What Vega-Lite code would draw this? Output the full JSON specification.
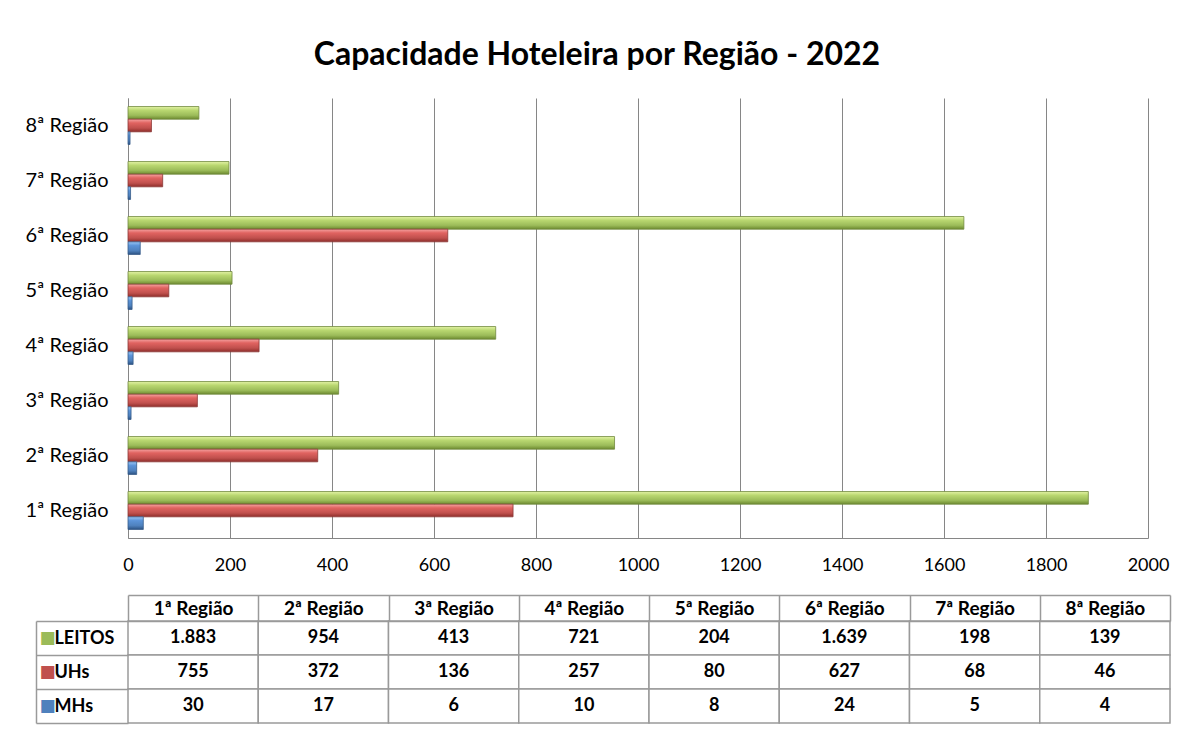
{
  "$schema": "https://vega.github.io/schema/vega-lite/v6.json",
  "background": "white",
  "padding": {"left": 25, "top": 39, "right": 5, "bottom": 5},
  "config": {
    "font": "Lato",
    "view": {"stroke": null},
    "locale": {"number": {"decimal": ",", "thousands": ".", "grouping": [3], "currency": ["R$", ""]}}
  },
  "datasets": {
    "d": [
      {"region": "1ª Região", "series": "LEITOS", "value": 1883},
      {"region": "1ª Região", "series": "UHs", "value": 755},
      {"region": "1ª Região", "series": "MHs", "value": 30},
      {"region": "2ª Região", "series": "LEITOS", "value": 954},
      {"region": "2ª Região", "series": "UHs", "value": 372},
      {"region": "2ª Região", "series": "MHs", "value": 17},
      {"region": "3ª Região", "series": "LEITOS", "value": 413},
      {"region": "3ª Região", "series": "UHs", "value": 136},
      {"region": "3ª Região", "series": "MHs", "value": 6},
      {"region": "4ª Região", "series": "LEITOS", "value": 721},
      {"region": "4ª Região", "series": "UHs", "value": 257},
      {"region": "4ª Região", "series": "MHs", "value": 10},
      {"region": "5ª Região", "series": "LEITOS", "value": 204},
      {"region": "5ª Região", "series": "UHs", "value": 80},
      {"region": "5ª Região", "series": "MHs", "value": 8},
      {"region": "6ª Região", "series": "LEITOS", "value": 1639},
      {"region": "6ª Região", "series": "UHs", "value": 627},
      {"region": "6ª Região", "series": "MHs", "value": 24},
      {"region": "7ª Região", "series": "LEITOS", "value": 198},
      {"region": "7ª Região", "series": "UHs", "value": 68},
      {"region": "7ª Região", "series": "MHs", "value": 5},
      {"region": "8ª Região", "series": "LEITOS", "value": 139},
      {"region": "8ª Região", "series": "UHs", "value": 46},
      {"region": "8ª Região", "series": "MHs", "value": 4}
    ]
  },
  "spacing": 20,
  "vconcat": [
    {
      "width": 1020,
      "height": 440,
      "title": {"text": "Capacidade Hoteleira por Região - 2022", "fontSize": 32, "fontWeight": "bold", "color": "#000", "anchor": "middle", "frame": "bounds", "offset": 26},
      "data": {"name": "d"},
      "encoding": {
        "y": {"field": "region", "type": "nominal",
          "scale": {"domain": ["8ª Região", "7ª Região", "6ª Região", "5ª Região", "4ª Região", "3ª Região", "2ª Região", "1ª Região"], "paddingInner": 0.31, "paddingOuter": 0.155},
          "axis": {"title": null, "ticks": false, "grid": false, "labelFontSize": 20, "labelColor": "#000", "labelPadding": 20, "domainColor": "#868686", "domainWidth": 1}},
        "yOffset": {"field": "series", "type": "nominal", "scale": {"domain": ["LEITOS", "UHs", "MHs"], "paddingInner": 0, "paddingOuter": 0}},
        "x": {"field": "value", "type": "quantitative",
          "scale": {"domain": [0, 2000]},
          "axis": {"title": null, "values": [0, 200, 400, 600, 800, 1000, 1200, 1400, 1600, 1800, 2000], "format": "d", "ticks": false, "labelFontSize": 18, "labelColor": "#000", "labelPadding": 18, "labelFlush": false, "grid": true, "gridColor": "#868686", "gridWidth": 1, "gridOpacity": 1, "domainColor": "#868686", "domainWidth": 1}}
      },
      "layer": [
        {"transform": [{"filter": "datum.series == 'LEITOS'"}],
          "mark": {"type": "bar", "stroke": "#71893f", "strokeWidth": 0.8,
            "color": {"gradient": "linear", "x1": 0, "y1": 0, "x2": 0, "y2": 1,
              "stops": [{"offset": 0, "color": "#e4f3a6"}, {"offset": 0.3, "color": "#b9d770"}, {"offset": 0.7, "color": "#9bbb59"}, {"offset": 1, "color": "#6d8a2f"}]}}},
        {"transform": [{"filter": "datum.series == 'UHs'"}],
          "mark": {"type": "bar", "stroke": "#8c3836", "strokeWidth": 0.8,
            "color": {"gradient": "linear", "x1": 0, "y1": 0, "x2": 0, "y2": 1,
              "stops": [{"offset": 0, "color": "#f5a3a1"}, {"offset": 0.3, "color": "#e06360"}, {"offset": 0.7, "color": "#c0504d"}, {"offset": 1, "color": "#8e2d2a"}]}}},
        {"transform": [{"filter": "datum.series == 'MHs'"}],
          "mark": {"type": "bar", "stroke": "#385d8a", "strokeWidth": 0.8,
            "color": {"gradient": "linear", "x1": 0, "y1": 0, "x2": 0, "y2": 1,
              "stops": [{"offset": 0, "color": "#9cc7f5"}, {"offset": 0.3, "color": "#5b93d8"}, {"offset": 0.7, "color": "#4f81bd"}, {"offset": 1, "color": "#2c5282"}]}}}
      ]
    },
    {
      "width": 1042,
      "height": 102,
      "data": {"name": "d"},
      "layer": [
        {
          "mark": {"type": "rect", "fill": "white", "stroke": "#9a9a9a", "strokeWidth": 1.5},
          "encoding": {
            "x": {"field": "region", "type": "nominal",
              "scale": {"domain": ["1ª Região", "2ª Região", "3ª Região", "4ª Região", "5ª Região", "6ª Região", "7ª Região", "8ª Região"], "paddingInner": 0, "paddingOuter": 0},
              "axis": {"orient": "top", "title": null, "tickBand": "extent", "tickSize": 26, "tickColor": "#9a9a9a", "tickWidth": 1.5, "domainColor": "#9a9a9a", "domainWidth": 1.5, "labelFontSize": 19, "labelFontWeight": "bold", "labelColor": "#000", "labelPadding": -13, "labelBaseline": "middle", "labelAngle": 0}},
            "y": {"field": "series", "type": "nominal",
              "scale": {"domain": ["LEITOS", "UHs", "MHs"], "paddingInner": 0, "paddingOuter": 0},
              "axis": {"orient": "left", "title": null, "tickBand": "extent", "tickSize": 92, "tickColor": "#9a9a9a", "tickWidth": 1.5, "domain": false, "labelFontSize": 18, "labelFontWeight": "bold", "labelColor": "#000", "labelAlign": "left", "labelPadding": -18}}
          }
        },
        {
          "mark": {"type": "text", "fontSize": 18, "fontWeight": "bold", "color": "#000"},
          "encoding": {
            "text": {"field": "value", "type": "quantitative", "format": ",d"},
            "x": {"field": "region", "type": "nominal",
              "scale": {"domain": ["1ª Região", "2ª Região", "3ª Região", "4ª Região", "5ª Região", "6ª Região", "7ª Região", "8ª Região"], "paddingInner": 0, "paddingOuter": 0},
              "axis": {"orient": "bottom", "offset": -128, "title": null, "labels": false, "ticks": false, "domainColor": "#9a9a9a", "domainWidth": 1.5}},
            "y": {"field": "series", "type": "nominal",
              "scale": {"domain": ["LEITOS", "UHs", "MHs"], "paddingInner": 0, "paddingOuter": 0},
              "axis": {"orient": "right", "offset": -1134, "title": null, "ticks": false, "domainColor": "#9a9a9a", "domainWidth": 1.5,
                "labelExpr": "'■'", "labelAlign": "left", "labelPadding": 3, "labelFont": "DejaVu Sans", "labelFontSize": 17,
                "labelColor": {"condition": [{"test": "datum.value == 'LEITOS'", "value": "#9bbb59"}, {"test": "datum.value == 'UHs'", "value": "#c0504d"}], "value": "#4f81bd"}}}
          }
        }
      ]
    }
  ]
}
